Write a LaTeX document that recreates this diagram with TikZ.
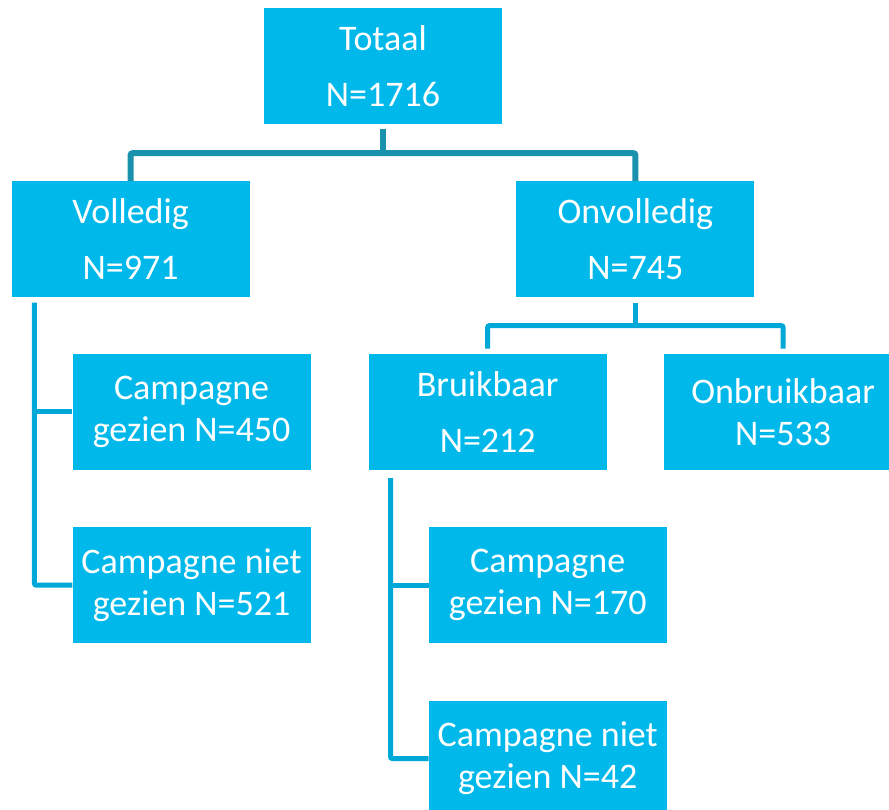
\documentclass[tikz,border=0pt]{standalone}
\usepackage{fontspec}
\setmainfont{Carlito}
\usetikzlibrary{positioning}
\definecolor{boxcyan}{HTML}{00B8EA}
\definecolor{trunkteal}{HTML}{1A92AE}
\definecolor{linkblue}{HTML}{00A8D8}
\tikzset{
    box/.style={rectangle, fill=boxcyan, text=white, minimum width=238pt, minimum height=116pt, inner sep=0pt, align=center, font=\fontsize{36}{42}\selectfont},
    headbox/.style={box, font=\fontsize{36}{56}\selectfont},
    trunk/.style={draw=trunkteal, line width=6pt, rounded corners=2pt},
    link/.style={draw=linkblue, line width=5pt, rounded corners=2pt}
}
\begin{document}
\begin{tikzpicture}[x=1pt, y=1pt]
\useasboundingbox (0,0) rectangle (889,-810);
\clip (0,0) rectangle (889,-810);

% Level 1: total
\node (totaal) [headbox] at (383,-66) {Totaal\\N=1716};

% Level 2: complete / incomplete
\node (volledig) [headbox, below left=57pt and 14pt of totaal] {Volledig\\N=971};
\node (onvolledig) [headbox, below right=57pt and 14pt of totaal] {Onvolledig\\N=745};

% Level 3: under Volledig
\node (gezien450) [box, below right=56pt and 61pt of volledig.south west] {Campagne\\gezien N=450};
\node (nietgezien521) [box, below=57pt of gezien450] {Campagne niet\\gezien N=521};

% Level 3: under Onvolledig
\node (bruikbaar) [headbox, below left=56pt and 28.5pt of onvolledig.south] {Bruikbaar\\N=212};
\node (onbruikbaar) [box, below right=56pt and 28.5pt of onvolledig.south] {Onbruikbaar\\N=533};

% Level 4: under Bruikbaar
\node (gezien170) [box, below right=57pt and 60pt of bruikbaar.south west] {Campagne\\gezien N=170};
\node (nietgezien42) [box, below=57pt of gezien170] {Campagne niet\\gezien N=42};

% Split below Totaal
\coordinate (tsplit) at ([yshift=-29pt]totaal.south);
\draw [trunk] ([yshift=-5pt]totaal.south) -- (tsplit);
\draw [trunk] (volledig.north) |- (tsplit) -| (onvolledig.north);

% Split below Onvolledig
\coordinate (osplit) at ([yshift=-28pt]onvolledig.south);
\draw [link] ([yshift=-5pt]onvolledig.south) -- (osplit);
\draw [link] ([yshift=5pt]bruikbaar.north) |- (osplit) -| ([yshift=5pt]onbruikbaar.north);

% Stem below Volledig
\coordinate (vstem) at ([xshift=23pt, yshift=-5pt]volledig.south west);
\draw [link] (vstem) |- (nietgezien521.west);
\draw [link] (vstem |- gezien450.west) -- (gezien450.west);

% Stem below Bruikbaar
\coordinate (bstem) at ([xshift=22pt, yshift=-8pt]bruikbaar.south west);
\draw [link] (bstem) |- (nietgezien42.west);
\draw [link] (bstem |- gezien170.west) -- (gezien170.west);

\end{tikzpicture}
\end{document}
